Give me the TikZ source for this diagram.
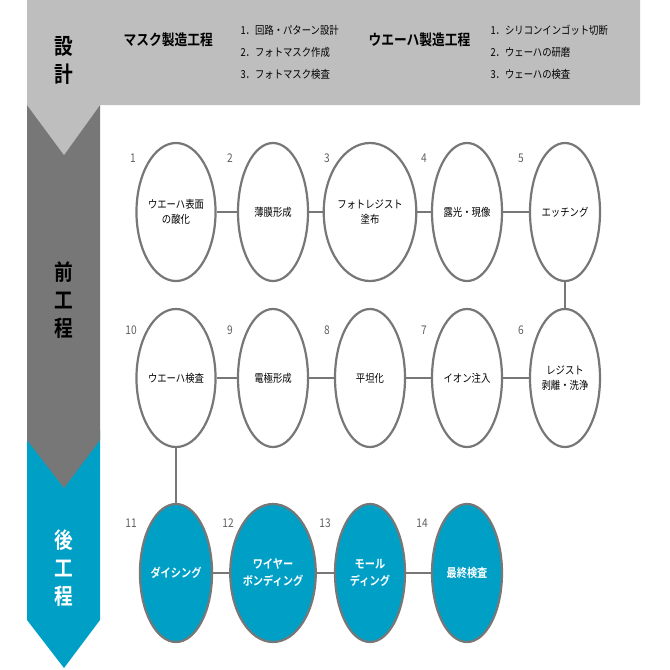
\documentclass[tikz,border=0pt]{standalone}
\usetikzlibrary{shapes.geometric}
\usepackage{fontspec}
\setmainfont{Noto Sans CJK JP}
\newfontfamily\jpb[FakeStretch=0.85]{Noto Sans CJK JP Bold}
\newfontfamily\jpn[FakeStretch=0.85]{Noto Sans CJK JP}
\definecolor{lg}{HTML}{BEBEBE}
\definecolor{dg}{HTML}{777777}
\definecolor{bl}{HTML}{00A0C6}
\begin{document}
\begin{tikzpicture}[x=1pt,y=-1pt,
  ov/.style={ellipse, draw=dg, line width=2.2pt, minimum width=70pt, minimum height=138pt, inner sep=0pt, align=center, font=\jpn\fontsize{11}{15}\selectfont, fill=white},
  ovb/.style={ov, fill=bl, text=white, font=\jpb\fontsize{12}{17}\selectfont},
  num/.style={font=\jpn\fontsize{12}{12}\selectfont, text=dg!80!black},
  ln/.style={draw=dg, line width=1.5pt},
  side/.style={font=\jpb\fontsize{22}{28}\selectfont, align=center}]
\useasboundingbox (0,0) rectangle (670,670);
\fill[bl] (27,430) -- (100,430) -- (100,620) -- (64,668) -- (27,620) -- cycle;
\fill[dg] (27,100) -- (100,100) -- (100,440) -- (64,488) -- (27,440) -- cycle;
\fill[lg] (27,0) -- (640,0) -- (640,105) -- (100,105) -- (64,155) -- (27,105) -- cycle;
\node[side] (s1) at (64,60) {設\\計};
\node[side, text=black] (s2) at (64,300) {前\\工\\程};
\node[side, text=white] (s3) at (64,568) {後\\工\\程};
\node[font=\jpb\fontsize{15}{15}\selectfont, anchor=west] (h1) at (120,40) {マスク製造工程};
\node[font=\jpn\fontsize{11}{22}\selectfont, anchor=north west, align=left] (l1) at (237,22) {1．回路・パターン設計\\2．フォトマスク作成\\3．フォトマスク検査};
\node[font=\jpb\fontsize{15}{15}\selectfont, anchor=west] (h2) at (365,40) {ウエーハ製造工程};
\node[font=\jpn\fontsize{11}{22}\selectfont, anchor=north west, align=left] (l2) at (487,22) {1．シリコンインゴット切断\\2．ウェーハの研磨\\3．ウェーハの検査};
\foreach \i/\x/\t in {1/176/{ウエーハ表面\\の酸化},2/273/薄膜形成,3/370/{フォトレジスト\\塗布},4/467/露光・現像,5/565/エッチング}
  \node[ov] (n\i) at (\x,212) {\t};
\foreach \i/\x/\t in {10/176/ウエーハ検査,9/273/電極形成,8/370/平坦化,7/467/イオン注入,6/565/{レジスト\\剥離・洗浄}}
  \node[ov] (n\i) at (\x,378) {\t};
\foreach \i/\x/\t in {11/176/ダイシング,12/273/{ワイヤー\\ボンディング},13/370/{モール\\ディング},14/467/最終検査}
  \node[ovb] (n\i) at (\x,573) {\t};
\foreach \a/\b in {1/2,2/3,3/4,4/5,5/6,6/7,7/8,8/9,9/10,10/11,11/12,12/13,13/14}
  \draw[ln] (n\a) -- (n\b);
\foreach \i/\x/\y in {1/133/158,2/230/158,3/327/158,4/424/158,5/521/158,10/131/330,9/230/330,8/327/330,7/424/330,6/521/330,11/131/523,12/228/523,13/325/523,14/422/523}
  \node[num] (k\i) at (\x,\y) {\i};
\end{tikzpicture}
\end{document}
